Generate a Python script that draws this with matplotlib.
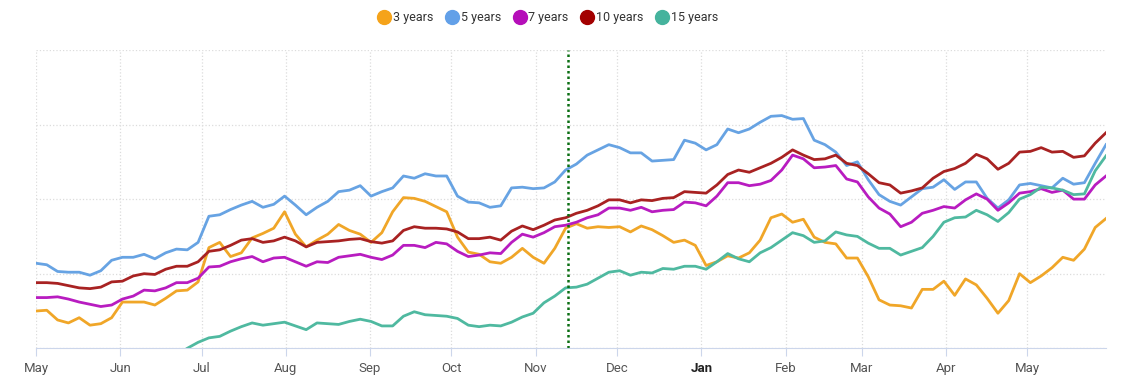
import numpy as np
import pandas as pd
import matplotlib
matplotlib.use("Agg")
import matplotlib.pyplot as plt
import matplotlib.dates as mdates

plt.rcParams['font.family'] = ['Roboto', 'DejaVu Sans']

# sample dates (roughly every 4 days)
dates = pd.date_range('2018-05-01', '2019-05-30', periods=100)
marker_date = pd.Timestamp('2018-11-13')

y3 = [0.50, 0.51, 0.38, 0.34, 0.41, 0.31, 0.33, 0.41, 0.62, 0.62,
      0.62, 0.58, 0.67, 0.77, 0.78, 0.89, 1.35, 1.42, 1.23, 1.28,
      1.48, 1.54, 1.61, 1.83, 1.53, 1.36, 1.45, 1.53, 1.66, 1.58,
      1.53, 1.42, 1.55, 1.83, 2.02, 2.01, 1.97, 1.90, 1.83, 1.49,
      1.29, 1.26, 1.16, 1.14, 1.22, 1.34, 1.22, 1.14, 1.34, 1.61,
      1.67, 1.61, 1.63, 1.62, 1.63, 1.56, 1.64, 1.59, 1.51, 1.42,
      1.45, 1.38, 1.11, 1.16, 1.24, 1.21, 1.28, 1.45, 1.75, 1.80,
      1.69, 1.73, 1.49, 1.42, 1.40, 1.21, 1.21, 0.96, 0.65, 0.58,
      0.57, 0.54, 0.79, 0.79, 0.90, 0.71, 0.93, 0.85, 0.67, 0.47,
      0.64, 1.00, 0.88, 0.97, 1.08, 1.22, 1.18, 1.33, 1.62, 1.74]

y5 = [1.14, 1.12, 1.03, 1.02, 1.02, 0.98, 1.04, 1.18, 1.22, 1.22,
      1.26, 1.20, 1.28, 1.33, 1.32, 1.42, 1.77, 1.79, 1.86, 1.92,
      1.97, 1.89, 1.93, 2.04, 1.92, 1.79, 1.89, 1.97, 2.10, 2.12,
      2.18, 2.04, 2.10, 2.15, 2.31, 2.28, 2.34, 2.31, 2.31, 2.04,
      1.96, 1.95, 1.89, 1.91, 2.15, 2.16, 2.14, 2.15, 2.23, 2.39,
      2.47, 2.59, 2.66, 2.73, 2.69, 2.62, 2.62, 2.51, 2.52, 2.53,
      2.79, 2.75, 2.66, 2.73, 2.94, 2.89, 2.94, 3.03, 3.11, 3.12,
      3.07, 3.08, 2.79, 2.73, 2.63, 2.45, 2.50, 2.26, 2.06, 1.97,
      1.92, 2.03, 2.14, 2.16, 2.26, 2.13, 2.23, 2.23, 2.01, 1.88,
      1.99, 2.19, 2.21, 2.18, 2.15, 2.28, 2.20, 2.22, 2.48, 2.73]

y7 = [0.68, 0.68, 0.69, 0.66, 0.62, 0.59, 0.56, 0.58, 0.66, 0.70,
      0.78, 0.77, 0.81, 0.88, 0.88, 0.94, 1.09, 1.10, 1.16, 1.20,
      1.23, 1.16, 1.21, 1.22, 1.16, 1.10, 1.16, 1.15, 1.22, 1.24,
      1.26, 1.22, 1.19, 1.25, 1.38, 1.38, 1.35, 1.42, 1.40, 1.30,
      1.23, 1.25, 1.28, 1.27, 1.42, 1.53, 1.49, 1.55, 1.63, 1.65,
      1.69, 1.75, 1.79, 1.88, 1.88, 1.85, 1.89, 1.83, 1.85, 1.86,
      1.96, 1.95, 1.91, 2.04, 2.22, 2.22, 2.18, 2.20, 2.25, 2.39,
      2.59, 2.54, 2.42, 2.43, 2.45, 2.27, 2.23, 2.03, 1.88, 1.80,
      1.63, 1.69, 1.81, 1.85, 1.90, 1.88, 1.99, 2.07, 2.00, 1.85,
      1.95, 2.08, 2.10, 2.14, 2.09, 2.12, 2.00, 2.00, 2.19, 2.31]

y10 = [0.88, 0.88, 0.87, 0.84, 0.81, 0.80, 0.82, 0.89, 0.90, 0.97,
       1.00, 0.99, 1.06, 1.10, 1.10, 1.16, 1.30, 1.32, 1.38, 1.45,
       1.47, 1.42, 1.44, 1.49, 1.44, 1.36, 1.42, 1.43, 1.44, 1.46,
       1.47, 1.43, 1.41, 1.44, 1.58, 1.63, 1.61, 1.61, 1.60, 1.56,
       1.47, 1.47, 1.49, 1.45, 1.57, 1.64, 1.59, 1.65, 1.72, 1.75,
       1.81, 1.85, 1.91, 1.99, 1.99, 1.95, 1.99, 1.98, 2.01, 2.02,
       2.10, 2.09, 2.08, 2.19, 2.33, 2.39, 2.36, 2.42, 2.48, 2.56,
       2.66, 2.59, 2.53, 2.54, 2.59, 2.48, 2.45, 2.34, 2.22, 2.19,
       2.08, 2.11, 2.15, 2.28, 2.37, 2.41, 2.48, 2.60, 2.54, 2.40,
       2.48, 2.63, 2.64, 2.69, 2.63, 2.64, 2.56, 2.58, 2.75, 2.89]

y15 = [np.nan] * 14 + [
       0.00, 0.08, 0.14, 0.16, 0.23, 0.29,
       0.34, 0.31, 0.33, 0.35, 0.30, 0.25, 0.34, 0.33, 0.32, 0.36,
       0.39, 0.36, 0.30, 0.30, 0.43, 0.49, 0.45, 0.44, 0.43, 0.40,
       0.31, 0.29, 0.31, 0.30, 0.35, 0.42, 0.47, 0.61, 0.70, 0.81,
       0.82, 0.86, 0.94, 1.02, 1.04, 0.98, 1.02, 1.01, 1.07, 1.06,
       1.10, 1.10, 1.06, 1.16, 1.27, 1.20, 1.16, 1.28, 1.35, 1.45,
       1.55, 1.51, 1.42, 1.44, 1.56, 1.52, 1.50, 1.41, 1.34, 1.34,
       1.25, 1.30, 1.35, 1.50, 1.69, 1.75, 1.76, 1.85, 1.79, 1.70,
       1.82, 2.00, 2.06, 2.16, 2.15, 2.12, 2.06, 2.07, 2.38, 2.58]

labels = ['3 years', '5 years', '7 years', '10 years', '15 years']
colors = ['#f0a628', '#67a3e3', '#b81cc0', '#a82222', '#4fb9a0']
legend_colors = ['#f5a31a', '#62a0e8', '#b50eb9', '#a30000', '#45b39d']

fig = plt.figure(figsize=(11.24, 3.87), dpi=100)
ax = fig.add_axes([0.032, 0.100, 0.952, 0.771])

for vals, lab, col in zip([y3, y5, y7, y10, y15], labels, colors):
    ax.plot(dates, vals, color=col, lw=2.0, label=lab, solid_joinstyle='round')

ax.axvline(marker_date, color='#0a6e12', lw=1.8, ls=(0, (1, 1.2)))

ax.set_xlim(pd.Timestamp('2018-05-01'), pd.Timestamp('2019-05-30'))
ax.set_ylim(0, 4)
ax.set_yticks([0, 1, 2, 3, 4])
ax.set_yticklabels([])
ax.tick_params(axis='y', length=0)

ax.xaxis.set_major_locator(mdates.MonthLocator())
ax.xaxis.set_major_formatter(mdates.DateFormatter('%b'))
ax.tick_params(axis='x', length=6, color='#ccd6eb', labelsize=9.5,
               labelcolor='#555555', pad=4)
for lbl in ax.get_xticklabels():
    if lbl.get_text() == 'Jan':
        lbl.set_fontweight('bold')
        lbl.set_color('#222222')

ax.grid(True, color='#dcdcdc', ls=':', lw=0.9)
ax.set_axisbelow(True)
for s in ['top', 'right', 'left']:
    ax.spines[s].set_visible(False)
ax.spines['bottom'].set_color('#ccd6eb')

handles = [plt.Line2D([], [], ls='', marker='o', ms=10, color=c) for c in legend_colors]
fig.legend(handles, labels, loc='upper center', bbox_to_anchor=(0.4875, 1.0),
           ncol=5, frameon=False, fontsize=9, handletextpad=0.2,
           handlelength=1.0, columnspacing=1.0, labelcolor='#333333')

fig.savefig('out.png', dpi=100)
